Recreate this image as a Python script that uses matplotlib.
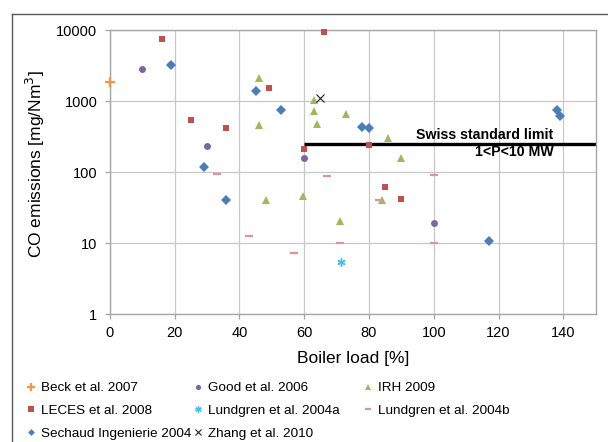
import matplotlib
matplotlib.use("Agg")
import matplotlib.pyplot as plt
from matplotlib.lines import Line2D
from matplotlib.ticker import NullLocator

plt.rcParams['font.family'] = ['Liberation Sans', 'DejaVu Sans']

# data (boiler load [%], CO [mg/Nm3])
beck_load = [0]
beck_co = [1870]
good_load = [10, 30, 60, 100]
good_co = [2850, 235, 160, 19.4]
irh_load = [46, 46, 48.3, 59.5, 63, 63, 64, 71, 73, 84, 86, 90]
irh_co = [2130, 460, 40, 45.7, 1030, 716, 475, 20.5, 650, 40, 299, 156]
leces_load = [16, 25, 36, 49, 60, 66, 80, 85, 90]
leces_co = [7520, 541, 421, 1510, 213, 9340, 238, 61, 42]
lund_a_load = [71.5]
lund_a_co = [5.4]
lund_b_load = [33, 43, 57, 67, 71, 83, 100, 100]
lund_b_co = [94, 12.6, 7.3, 89, 10.1, 40, 92, 10.2]
sechaud_load = [19, 29, 36, 45, 53, 78, 80, 117, 138, 139]
sechaud_co = [3240, 119, 40, 1370, 740, 435, 413, 10.8, 747, 621]
zhang_load = [65]
zhang_co = [1090]

limit_load = [60, 150]
limit_co = [250, 250]

x_ticks = [0, 20, 40, 60, 80, 100, 120, 140]
y_ticks = [1, 10, 100, 1000, 10000]

fig = plt.figure(figsize=(6.08, 4.42), dpi=100)
ax = fig.add_axes([109.8 / 608, 1 - 314.3 / 442, 485.9 / 608, 284.3 / 442])

series = [
    ("Beck et al. 2007", beck_load, beck_co, dict(marker='+', color='#F79646', ms=7, mew=1.6)),
    ("Good et al. 2006", good_load, good_co, dict(marker='o', color='#8064A2', ms=5, mew=0)),
    ("IRH 2009", irh_load, irh_co, dict(marker='^', color='#9BBB59', ms=5.5, mew=0)),
    ("LECES et al. 2008", leces_load, leces_co, dict(marker='s', color='#C0504D', ms=5, mew=0)),
    ("Lundgren et al. 2004a", lund_a_load, lund_a_co, dict(marker=(6, 2, 0), color='#3EC1F0', ms=6, mew=1.0)),
    ("Lundgren et al. 2004b", lund_b_load, lund_b_co, dict(marker='_', color='#D99694', ms=6, mew=1.6)),
    ("Sechaud Ingenierie 2004", sechaud_load, sechaud_co, dict(marker='D', color='#4A7EBB', ms=4.6, mew=0)),
    ("Zhang et al. 2010", zhang_load, zhang_co, dict(marker='x', color='#222222', ms=6, mew=0.8)),
]

handles = []
for name, xs, ys, st in series:
    h, = ax.plot(xs, ys, linestyle='none', clip_on=False, zorder=3, label=name, **st)
    handles.append(h)

ax.plot(limit_load, limit_co, color='black', lw=2.4, solid_capstyle='butt', zorder=2)
ax.text(137, 330, "Swiss standard limit", ha='right', va='center', fontsize=10.2, fontweight='bold')
ax.text(137, 195, "1<P<10 MW", ha='right', va='center', fontsize=10.2, fontweight='bold')

ax.set_yscale('log')
ax.set_xlim(0, 150)
ax.set_ylim(1, 10000)
ax.set_xticks(x_ticks)
ax.set_xticklabels([str(v) for v in x_ticks])
ax.set_yticks(y_ticks)
ax.set_yticklabels([str(v) for v in y_ticks])
ax.yaxis.set_minor_locator(NullLocator())
ax.grid(True, color='#C8C8C8', lw=0.9)
ax.set_axisbelow(True)
for sp in ax.spines.values():
    sp.set_color('#A6A6A6')
    sp.set_linewidth(1.0)
ax.tick_params(axis='both', direction='out', length=3.5, width=0.9, color='#A6A6A6', labelsize=10.5)
ax.tick_params(axis='x', pad=5)
ax.tick_params(axis='y', pad=5.5)

fig.text(35 / 608, 1 - 164 / 442, "CO emissions [mg/Nm$^3$]", rotation=90, ha='center', va='center', fontsize=12.5)
fig.text(352.7 / 608, 1 - 358 / 442, "Boiler load [%]", ha='center', va='center', fontsize=12.5)

# legend in three fixed columns like the spreadsheet one
cols = [([0, 3, 6], 26), ([1, 4, 7], 193), ([2, 5], 363)]
for idx, left in cols:
    fig.legend([handles[i] for i in idx], [series[i][0] for i in idx],
               loc='upper left', bbox_to_anchor=(left / 608, 1 - 382 / 442),
               frameon=False, fontsize=9.7, borderpad=0, borderaxespad=0,
               handlelength=0.8, handletextpad=0.3, labelspacing=0.75, markerscale=0.75)

# chart area frame (left and top edges visible)
fig.add_artist(Line2D([12 / 608, 12 / 608], [0, 1 - 14 / 442], color='#595959', lw=1))
fig.add_artist(Line2D([12 / 608, 1], [1 - 14 / 442, 1 - 14 / 442], color='#595959', lw=1))

fig.savefig("out.png", dpi=100)
